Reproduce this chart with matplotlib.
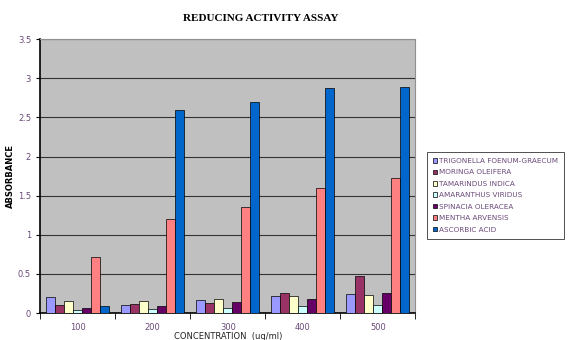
import numpy as np
import matplotlib.pyplot as plt

concentrations = ["100", "200", "300", "400", "500"]
species = ["TRIGONELLA FOENUM-GRAECUM", "MORINGA OLEIFERA", "TAMARINDUS INDICA",
           "AMARANTHUS VIRIDUS", "SPINACIA OLERACEA", "MENTHA ARVENSIS", "ASCORBIC ACID"]
trigonella = [0.20, 0.11, 0.17, 0.22, 0.25]
moringa = [0.10, 0.12, 0.13, 0.26, 0.47]
tamarindus = [0.15, 0.15, 0.18, 0.22, 0.23]
amaranthus = [0.04, 0.05, 0.06, 0.09, 0.10]
spinacia = [0.06, 0.09, 0.14, 0.18, 0.26]
mentha = [0.72, 1.20, 1.35, 1.60, 1.73]
ascorbic = [0.09, 2.60, 2.70, 2.87, 2.89]
series = [trigonella, moringa, tamarindus, amaranthus, spinacia, mentha, ascorbic]
colors = ["#9999FF", "#993366", "#FFFFCC", "#CCFFFF", "#660066", "#FF8080", "#0066CC"]

txt = "#6a4a7a"
fig = plt.figure(figsize=(5.73, 3.4), dpi=100)
ax = fig.add_axes([0.07, 0.079, 0.655, 0.806])
ax.set_facecolor("#C0C0C0")

x = np.arange(len(concentrations))
w = 0.12
for i, (vals, c, name) in enumerate(zip(series, colors, species)):
    ax.bar(x + (i - 3) * w, vals, w, color=c, edgecolor="black", linewidth=0.5,
           label=name, zorder=3)

ax.set_xlim(-0.5, 4.5)
ax.set_ylim(0, 3.5)
ax.set_yticks(np.arange(0, 3.51, 0.5))
ax.set_yticklabels(["0", "0.5", "1", "1.5", "2", "2.5", "3", "3.5"])
ax.set_xticks(x)
ax.set_xticklabels(concentrations)
ax.set_xticks(np.arange(-0.5, 4.6, 1), minor=True)
ax.tick_params(axis="x", which="major", length=0, labelsize=6, labelcolor=txt, pad=7)
ax.tick_params(axis="x", which="minor", length=4, direction="out")
ax.tick_params(axis="y", labelsize=6, labelcolor=txt, length=3)
ax.grid(axis="y", color="#333333", linewidth=0.8, zorder=1)
for s in ["top", "right"]:
    ax.spines[s].set_color("#909090")
ax.spines["left"].set_linewidth(1.2)
ax.spines["bottom"].set_linewidth(1.2)

ax.set_xlabel("CONCENTRATION  (ug/ml)", fontsize=6, labelpad=0, color="#222222")
ax.set_ylabel("ABSORBANCE", fontsize=6, fontweight="bold", labelpad=2)
fig.text(0.455, 0.945, "REDUCING ACTIVITY ASSAY", ha="center", va="center",
         family="Liberation Serif", fontweight="bold", fontsize=8)

leg = ax.legend(loc="center left", bbox_to_anchor=(1.02, 0.43), fontsize=5.2,
                frameon=True, fancybox=False, edgecolor="black", handlelength=0.6,
                handleheight=0.6, handletextpad=0.2, labelspacing=0.75, borderpad=0.9)
leg.get_frame().set_linewidth(0.6)
for t in leg.get_texts():
    t.set_color(txt)

fig.savefig("out.png", dpi=100)
